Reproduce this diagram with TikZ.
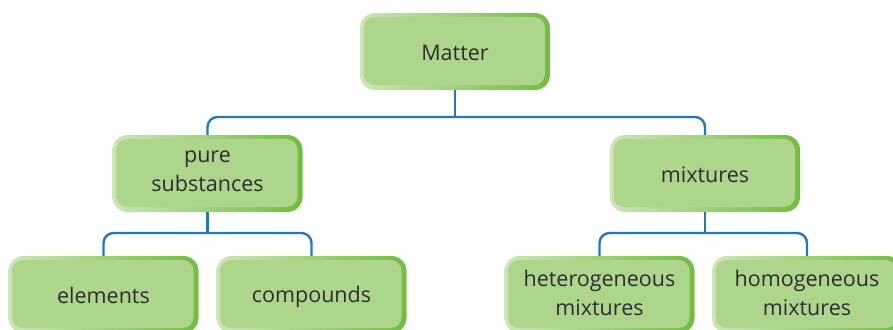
\documentclass[tikz,border=0pt]{standalone}
\usepackage{fontspec}
\setmainfont{Open Sans}
\definecolor{boxfill}{HTML}{ADD58C}
\definecolor{borderL}{HTML}{CDE5B8}
\definecolor{borderR}{HTML}{72BD40}
\definecolor{linkc}{HTML}{2776B5}
\definecolor{txt}{HTML}{2E2E2E}
\newcommand{\boxstrut}{\rule[-4pt]{0pt}{25pt}}
\tikzset{
  box/.style={minimum width=190pt, minimum height=77pt, rounded corners=15pt,
    left color=borderL, right color=borderR, inner sep=0pt,
    text=txt, font=\fontsize{21.5}{29}\selectfont, align=center,
    execute at begin node=\boxstrut, execute at end node=\boxstrut,
    path picture={\fill[boxfill, rounded corners=11pt]
      ([shift={(3.5pt,-4pt)}]path picture bounding box.north west) rectangle
      ([shift={(-5pt,5pt)}]path picture bounding box.south east);}},
  link/.style={draw=linkc, line width=2.4pt, rounded corners=10pt}
}
\begin{document}
\begin{tikzpicture}[x=1pt,y=1pt]
\useasboundingbox (0,0) rectangle (893,-329);
\clip (0,0) rectangle (893,-329);
\node[box] (matter) at (455,-51.5) {Matter};
\node[box] (pure) at (207.5,-173.5) {pure\\substances};
\node[box] (mix) at (705,-173.5) {mixtures};
\node[box] (elem) at (103.5,-294.5) {elements};
\node[box] (comp) at (311.5,-294.5) {compounds};
\node[box] (het) at (599.5,-294.5) {heterogeneous\\mixtures};
\node[box] (hom) at (807,-294.5) {homogeneous\\mixtures};
\coordinate (j1) at (455,-117);
\coordinate (j2) at (207.5,-233);
\coordinate (j3) at (705,-233);
\draw[link] (matter.south) -- (j1);
\draw[link] (pure.north) |- (j1) -| (mix.north);
\draw[link] (pure.south) -- (j2);
\draw[link] (elem.north) |- (j2) -| (comp.north);
\draw[link] (mix.south) -- (j3);
\draw[link] (het.north) |- (j3) -| (hom.north);
\end{tikzpicture}
\end{document}
